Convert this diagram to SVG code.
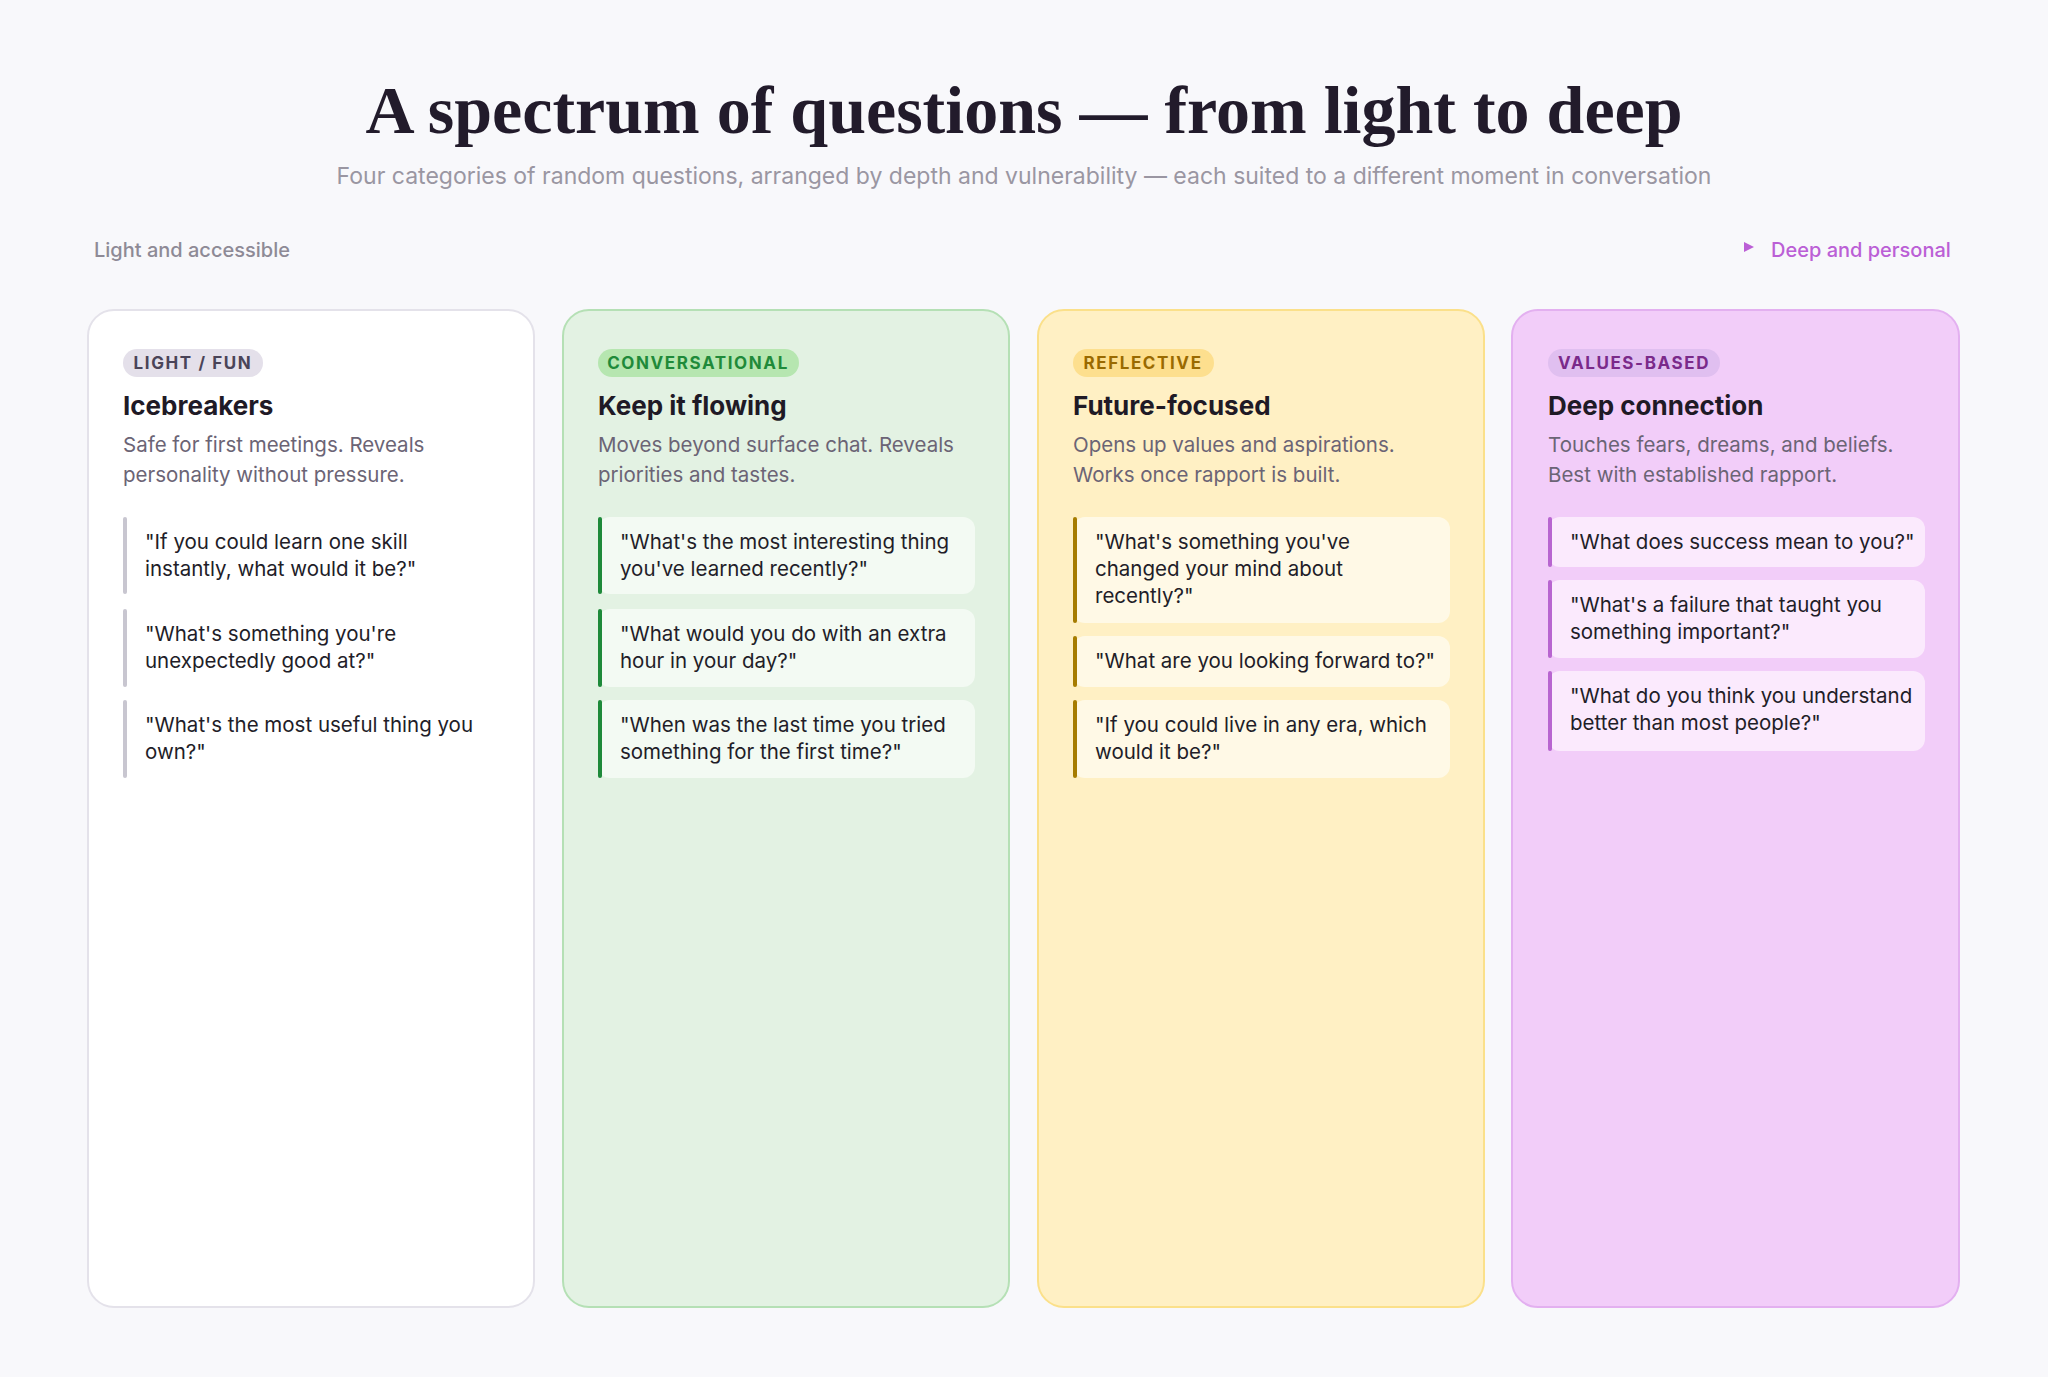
<svg xmlns="http://www.w3.org/2000/svg" width="2048" height="1377" viewBox="0 0 2048 1377">
<defs>
<marker id="ah" viewBox="0 0 10 10" refX="9" refY="5" markerWidth="10" markerHeight="10" markerUnits="userSpaceOnUse" orient="auto"><path d="M0,0 L10,5 L0,10 z" fill="#bb5fd6"/></marker>
<linearGradient id="ax" x1="0" x2="1" y1="0" y2="0"><stop offset="0" stop-color="#e2d4ec"/><stop offset="1" stop-color="#bb5fd6"/></linearGradient>
</defs>
<style>
text{font-family:Inter,"Noto Sans",sans-serif}
.t{font-family:"Liberation Serif","DejaVu Serif",serif;font-size:68px;fill:#221b2b;font-weight:600}
.sub{font-size:23px;fill:#9a96a2}
.ax{font-size:20px;font-weight:500}
.pill{font-size:17px;font-weight:700;letter-spacing:1.6px}
.h{font-size:26px;font-weight:700;fill:#1f1a26}
.d{font-size:20.5px;fill:#6b6475}
.q{font-size:20.5px;fill:#221d28}
</style>
<rect width="2048" height="1377" fill="#f8f8fb"/>
<text class="t" x="1024" y="133" text-anchor="middle">A spectrum of questions — from light to deep</text>
<text class="sub" x="1024" y="184" text-anchor="middle">Four categories of random questions, arranged by depth and vulnerability — each suited to a different moment in conversation</text>
<g id="connectors">
<text class="ax" x="94" y="257" fill="#8e8a96">Light and accessible</text>
<line x1="313" y1="247" x2="1753" y2="247" stroke="url(#ax)" stroke-width="3" marker-end="url(#ah)"/>
<text class="ax" x="1771" y="257" fill="#bb5fd6" font-weight="600">Deep and personal</text>
</g>
<g id="card1">
<rect x="88" y="310" width="446" height="997" rx="26" fill="#ffffff" stroke="#e4e2ea" stroke-width="2"/>
<rect x="123" y="349" width="140" height="28" rx="14" fill="#e4e0ea"/>
<text class="pill" x="193" y="369" text-anchor="middle" fill="#4a4458">LIGHT / FUN</text>
<text class="h" x="123" y="415">Icebreakers</text>
<text class="d" x="123" y="452">Safe for first meetings. Reveals</text>
<text class="d" x="123" y="482">personality without pressure.</text>
<rect x="123" y="517" width="375" height="77" rx="12" fill="#ffffff"/><rect x="123" y="517" width="4" height="77" rx="2" fill="#c8c6d0"/>
<text class="q" x="145" y="549">"If you could learn one skill</text><text class="q" x="145" y="576">instantly, what would it be?"</text>
<rect x="123" y="609" width="375" height="78" rx="12" fill="#ffffff"/><rect x="123" y="609" width="4" height="78" rx="2" fill="#c8c6d0"/>
<text class="q" x="145" y="641">"What's something you're</text><text class="q" x="145" y="668">unexpectedly good at?"</text>
<rect x="123" y="700" width="375" height="78" rx="12" fill="#ffffff"/><rect x="123" y="700" width="4" height="78" rx="2" fill="#c8c6d0"/>
<text class="q" x="145" y="732">"What's the most useful thing you</text><text class="q" x="145" y="759">own?"</text>
</g>
<g id="card2">
<rect x="563" y="310" width="446" height="997" rx="26" fill="#e3f2e3" stroke="#b5e0b5" stroke-width="2"/>
<rect x="598" y="349" width="201" height="28" rx="14" fill="#b6e6b0"/>
<text class="pill" x="698" y="369" text-anchor="middle" fill="#1f8a3a">CONVERSATIONAL</text>
<text class="h" x="598" y="415">Keep it flowing</text>
<text class="d" x="598" y="452">Moves beyond surface chat. Reveals</text>
<text class="d" x="598" y="482">priorities and tastes.</text>
<rect x="598" y="517" width="377" height="77" rx="12" fill="#f3faf3"/><rect x="598" y="517" width="4" height="77" rx="2" fill="#1e8a3a"/>
<text class="q" x="620" y="549">"What's the most interesting thing</text><text class="q" x="620" y="576">you've learned recently?"</text>
<rect x="598" y="609" width="377" height="78" rx="12" fill="#f3faf3"/><rect x="598" y="609" width="4" height="78" rx="2" fill="#1e8a3a"/>
<text class="q" x="620" y="641">"What would you do with an extra</text><text class="q" x="620" y="668">hour in your day?"</text>
<rect x="598" y="700" width="377" height="78" rx="12" fill="#f3faf3"/><rect x="598" y="700" width="4" height="78" rx="2" fill="#1e8a3a"/>
<text class="q" x="620" y="732">"When was the last time you tried</text><text class="q" x="620" y="759">something for the first time?"</text>
</g>
<g id="card3">
<rect x="1038" y="310" width="446" height="997" rx="26" fill="#fff0c4" stroke="#fbe08a" stroke-width="2"/>
<rect x="1073" y="349" width="141" height="28" rx="14" fill="#fddf8e"/>
<text class="pill" x="1143" y="369" text-anchor="middle" fill="#9a6a00">REFLECTIVE</text>
<text class="h" x="1073" y="415">Future-focused</text>
<text class="d" x="1073" y="452">Opens up values and aspirations.</text>
<text class="d" x="1073" y="482">Works once rapport is built.</text>
<rect x="1073" y="517" width="377" height="106" rx="12" fill="#fff9e6"/><rect x="1073" y="517" width="4" height="106" rx="2" fill="#a67c00"/>
<text class="q" x="1095" y="549">"What's something you've</text><text class="q" x="1095" y="576">changed your mind about</text><text class="q" x="1095" y="603">recently?"</text>
<rect x="1073" y="636" width="377" height="51" rx="12" fill="#fff9e6"/><rect x="1073" y="636" width="4" height="51" rx="2" fill="#a67c00"/>
<text class="q" x="1095" y="668">"What are you looking forward to?"</text>
<rect x="1073" y="700" width="377" height="78" rx="12" fill="#fff9e6"/><rect x="1073" y="700" width="4" height="78" rx="2" fill="#a67c00"/>
<text class="q" x="1095" y="732">"If you could live in any era, which</text><text class="q" x="1095" y="759">would it be?"</text>
</g>
<g id="card4">
<rect x="1512" y="310" width="447" height="997" rx="26" fill="#f2cdf9" stroke="#e3b0f0" stroke-width="2"/>
<rect x="1548" y="349" width="172" height="28" rx="14" fill="#e0bff0"/>
<text class="pill" x="1634" y="369" text-anchor="middle" fill="#7a2a8a">VALUES-BASED</text>
<text class="h" x="1548" y="415">Deep connection</text>
<text class="d" x="1548" y="452">Touches fears, dreams, and beliefs.</text>
<text class="d" x="1548" y="482">Best with established rapport.</text>
<rect x="1548" y="517" width="377" height="50" rx="12" fill="#fbeafd"/><rect x="1548" y="517" width="4" height="50" rx="2" fill="#b865d0"/>
<text class="q" x="1570" y="549">"What does success mean to you?"</text>
<rect x="1548" y="580" width="377" height="78" rx="12" fill="#fbeafd"/><rect x="1548" y="580" width="4" height="78" rx="2" fill="#b865d0"/>
<text class="q" x="1570" y="612">"What's a failure that taught you</text><text class="q" x="1570" y="639">something important?"</text>
<rect x="1548" y="671" width="377" height="80" rx="12" fill="#fbeafd"/><rect x="1548" y="671" width="4" height="80" rx="2" fill="#b865d0"/>
<text class="q" x="1570" y="703">"What do you think you understand</text><text class="q" x="1570" y="730">better than most people?"</text>
</g>
</svg>
